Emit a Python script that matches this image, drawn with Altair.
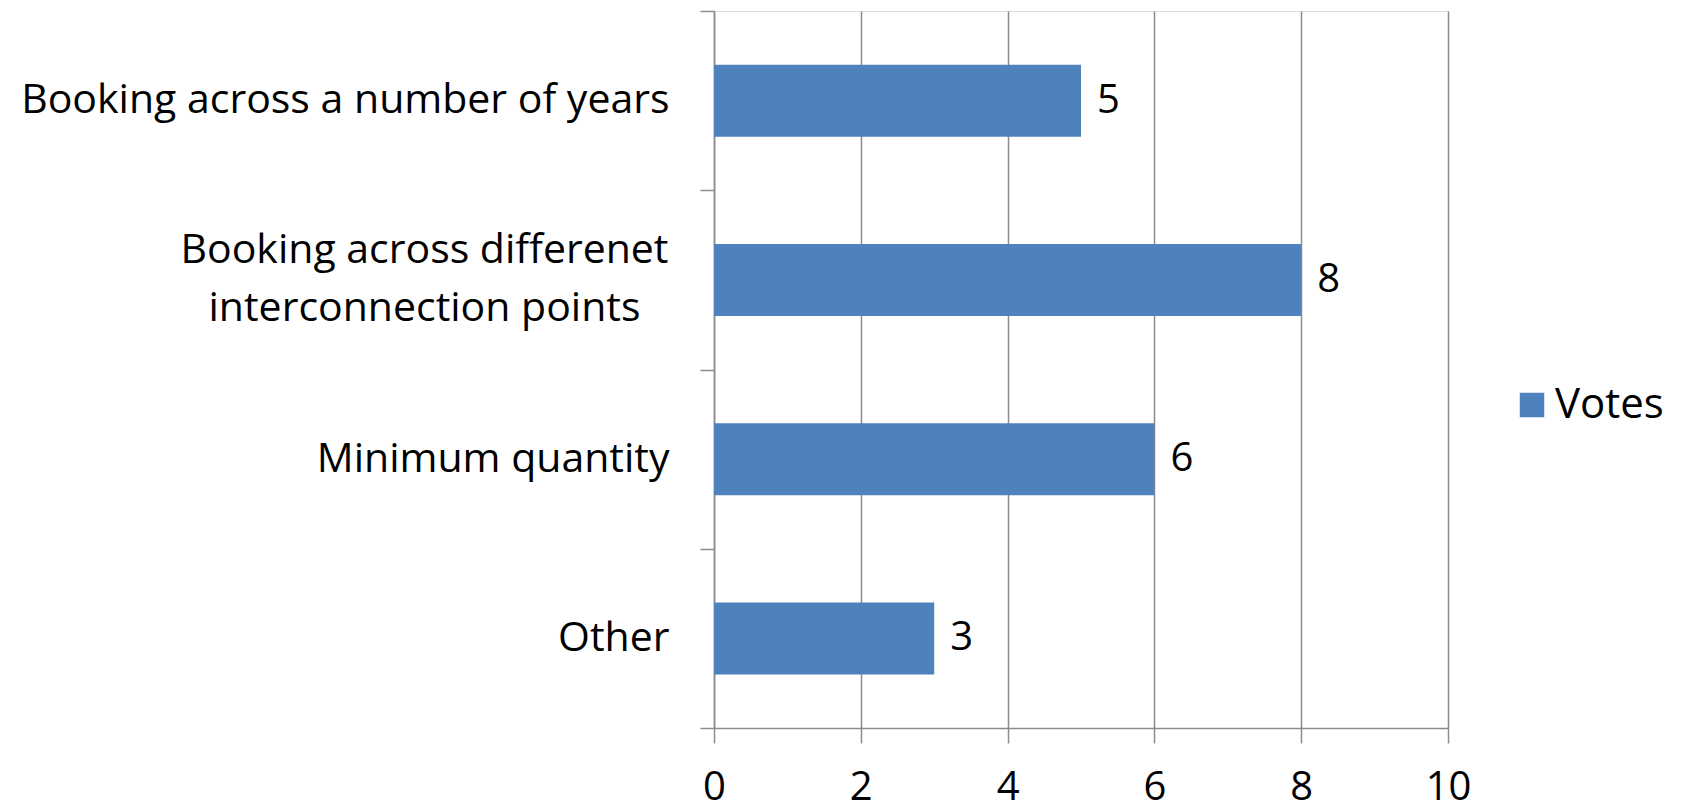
import altair as alt
import pandas as pd

categories = [
    "Booking across a number of years",
    "Booking across differenet interconnection points",
    "Minimum quantity",
    "Other",
]
votes = [5, 8, 6, 3]
series_name = "Votes"
x_ticks = [0, 2, 4, 6, 8, 10]

df = pd.DataFrame({
    "category": categories,
    "votes": votes,
    "series": [series_name] * len(categories),
})

FONT = "Open Sans"
GRAY = "#8c8c8c"
BLUE = "#4F81BD"

LONG = "Booking across differenet interconnection points"
test_long = f"datum.value == '{LONG}'"
label_expr = (
    f"{test_long} ? ['Booking across differenet', 'interconnection points'] : datum.value"
)

y_enc = alt.Y(
    "category:N",
    sort=categories,
    title=None,
    scale=alt.Scale(paddingInner=0, paddingOuter=0),
    axis=alt.Axis(
        tickBand="extent",
        labelExpr=label_expr,
        labelFont=FONT,
        labelFontSize=41,
        labelColor="black",
        labelPadding={"condition": {"test": test_long, "value": 276}, "value": 31},
        labelAlign={"condition": {"test": test_long, "value": "center"}, "value": "right"},
        labelOffset={"condition": {"test": test_long, "value": -29}, "value": 0},
        labelLimit=1000,
        labelLineHeight=58,
        tickSize=14,
        tickColor=GRAY,
        tickWidth=1.5,
        domainColor=GRAY,
        domainWidth=1.5,
        grid=False,
    ),
)

x_enc = alt.X(
    "votes:Q",
    title=None,
    scale=alt.Scale(domain=[0, 10], nice=False),
    axis=alt.Axis(
        values=x_ticks,
        format="d",
        grid=True,
        gridColor=GRAY,
        gridWidth=1.5,
        tickSize=15,
        tickColor=GRAY,
        tickWidth=1.5,
        domainColor=GRAY,
        domainWidth=1.5,
        labelFont=FONT,
        labelFontSize=40,
        labelColor="black",
        labelPadding=24,
        labelFlush=False,
        labelOverlap=False,
    ),
)

base = alt.Chart(df)

bars = base.mark_bar(size=72).encode(
    y=y_enc,
    x=x_enc,
    color=alt.Color(
        "series:N",
        scale=alt.Scale(range=[BLUE]),
        legend=alt.Legend(
            orient="none",
            legendX=797,
            legendY=373,
            title=None,
            labelFont=FONT,
            labelFontSize=42,
            labelColor="black",
            symbolType="square",
            symbolSize=600,
            symbolStrokeWidth=0,
            symbolFillColor=BLUE,
            labelOffset=2,
            padding=0,
        ),
    ),
)

text = base.mark_text(
    align="left", baseline="middle", dx=16, font=FONT, fontSize=40, color="black"
).encode(
    y=alt.Y("category:N", sort=categories),
    x=alt.X("votes:Q"),
    text=alt.Text("votes:Q"),
)

chart = (
    alt.layer(bars, text)
    .properties(
        width=734,
        height=717,
        padding={"left": 706, "top": 3, "right": 230, "bottom": 79},
        autosize=alt.AutoSizeParams(type="none"),
    )
    .configure_view(stroke=None)
    .configure(background="white")
)

chart.save("out.html", embed_options={"renderer": "svg", "actions": False})
